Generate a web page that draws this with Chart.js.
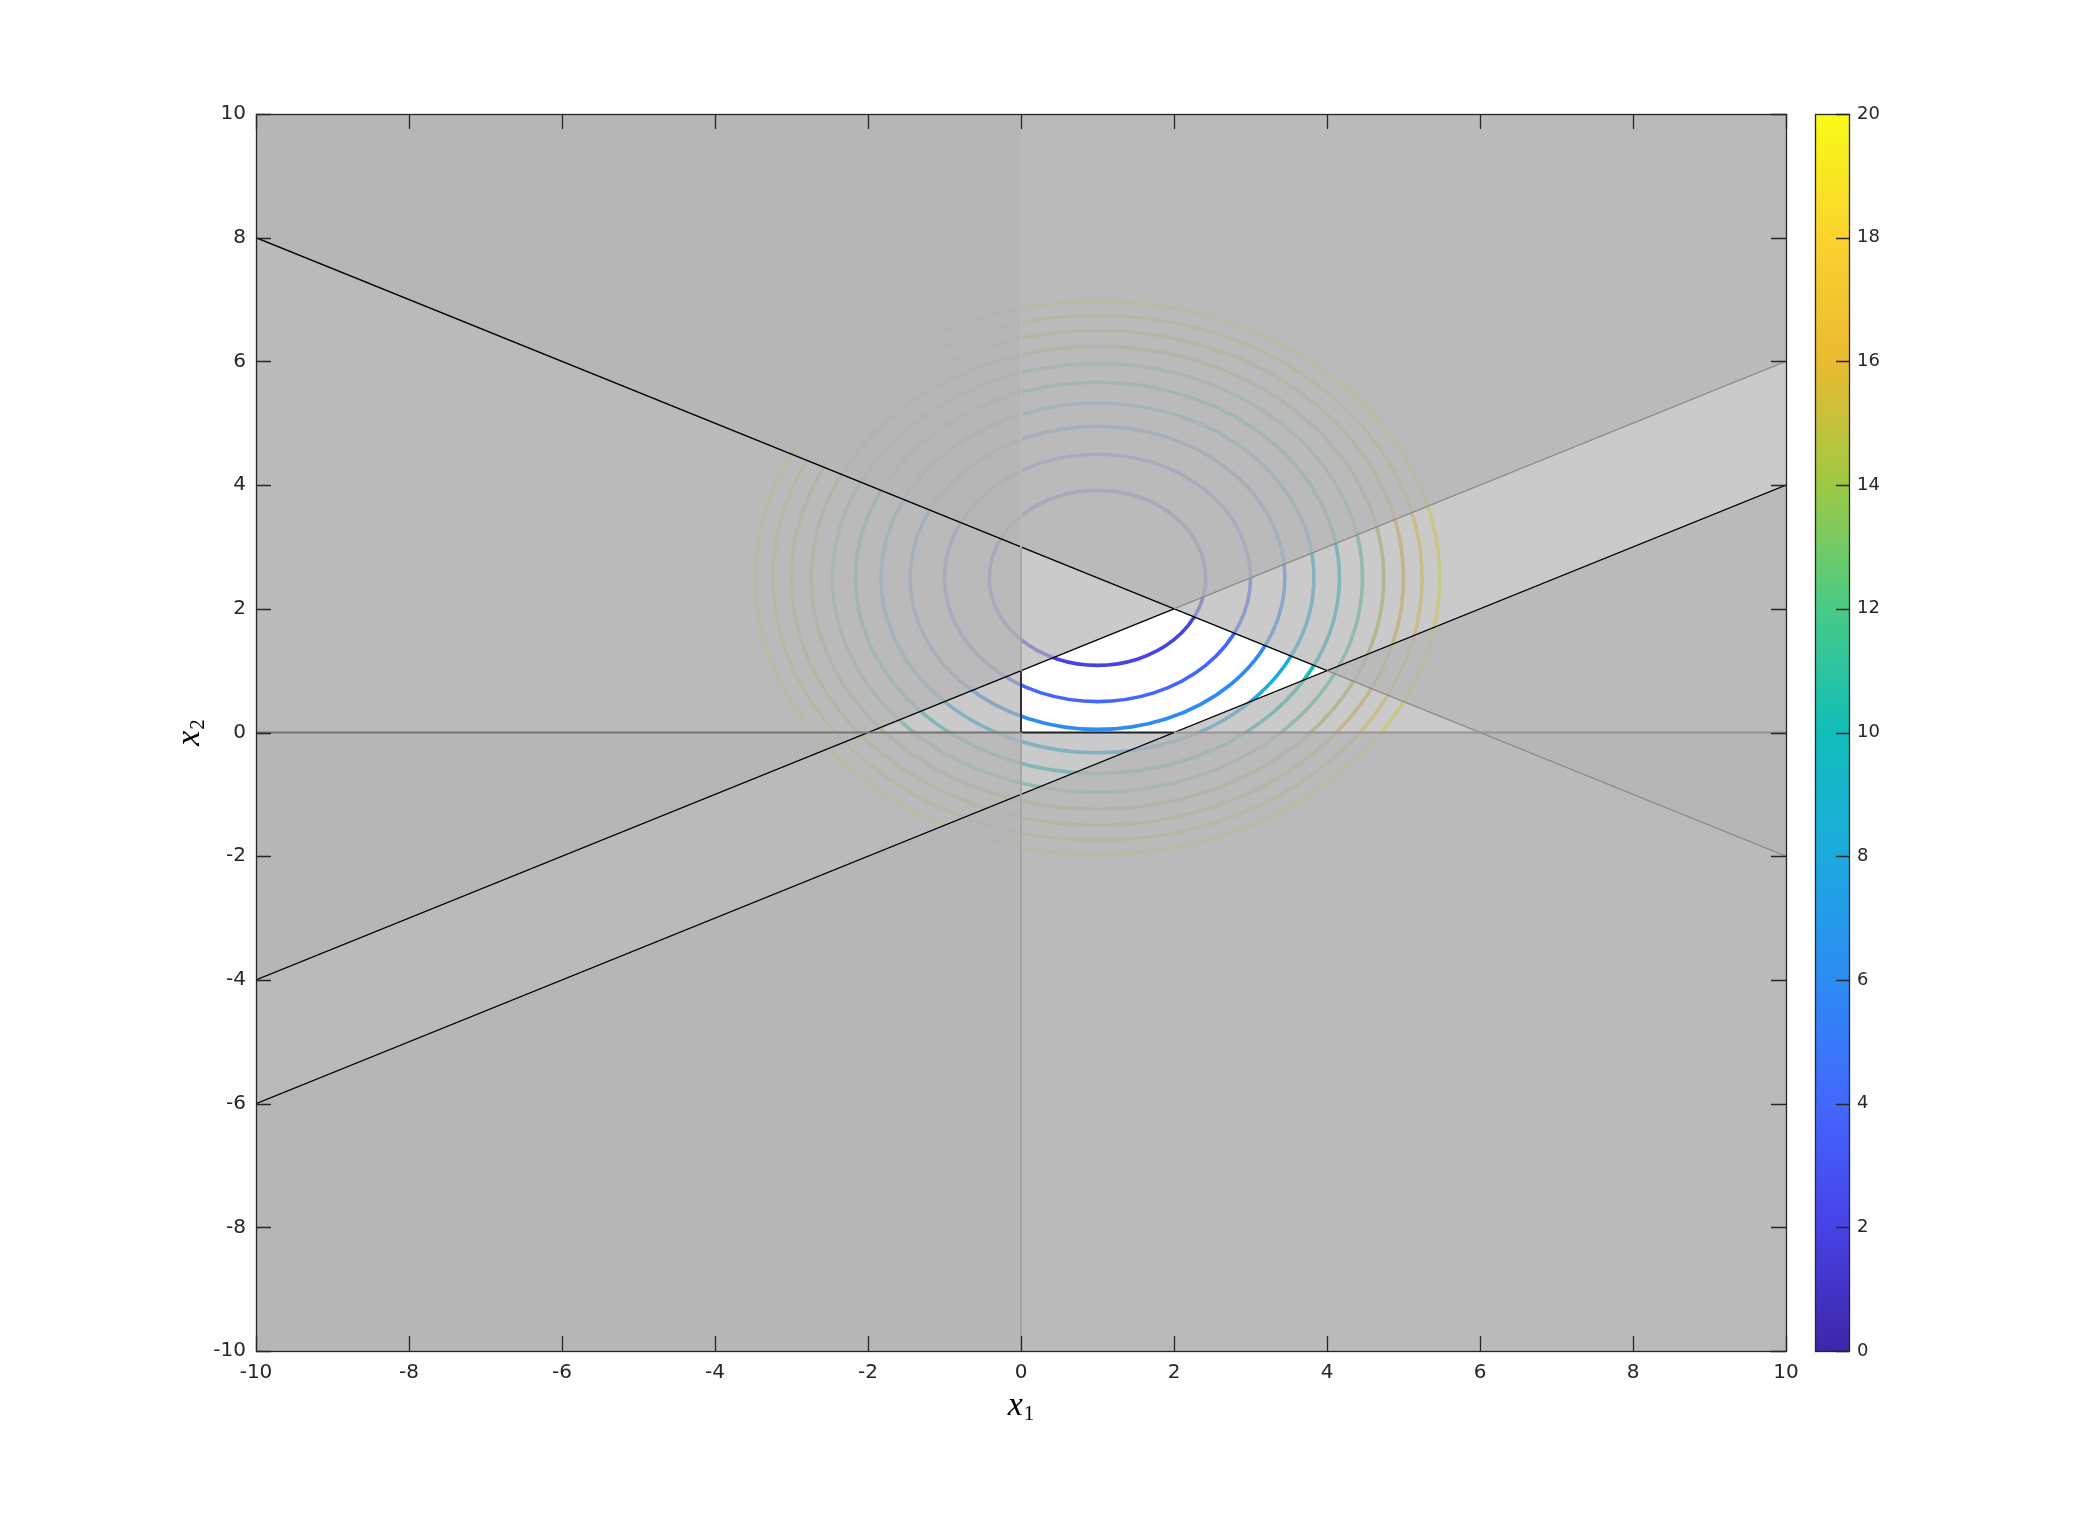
<!DOCTYPE html>
<html>
<head>
<meta charset="utf-8">
<title>Feasible region with objective contours</title>
<script src="https://cdn.jsdelivr.net/npm/chart.js@4.4.1/dist/chart.umd.min.js"></script>
<style>
html,body{margin:0;padding:0;background:#fff;}
#wrap{position:relative;width:2078px;height:1519px;}
</style>
</head>
<body>
<div id="wrap"><canvas id="lp" width="2078" height="1519"></canvas></div>
<script>
// tick values
const xTicks = [-10, -8, -6, -4, -2, 0, 2, 4, 6, 8, 10];
const yTicks = [-10, -8, -6, -4, -2, 0, 2, 4, 6, 8, 10];
const cbTicks = [0, 2, 4, 6, 8, 10, 12, 14, 16, 18, 20];

// objective f = (x1-1)^2 + (x2-2.5)^2, contour levels
const fCenter = [1, 2.5];
const fLevels = [2, 4, 6, 8, 10, 12, 14, 16, 18, 20];

// constraint boundaries, edge to edge of the axes
const edgeA = [[-10, 8], [10, -2]];   // x1 + 2x2 <= 6   (shade above)
const edgeB = [[-10, -4], [10, 6]];   // -x1 + 2x2 <= 2  (shade above)
const edgeC = [[-10, -6], [10, 4]];   // x1 - 2x2 <= 2   (shade below)
const edgeD = [[-10, 10], [0, 10]];   // x1 >= 0         (shade below)
const edgeE = [[-10, 0], [10, 0]];    // x2 >= 0         (shade below)

// visible line pieces
const blackA = [[-10, 8], [4, 1]];
const greyA = [[4, 1], [10, -2]];
const blackB = [[-10, -4], [2, 2]];
const greyB = [[2, 2], [10, 6]];
const blackC = [[-10, -6], [10, 4]];
const x2AxisLeft = [[-10, 0], [0, 0]];
const x2AxisMid = [[0, 0], [2, 0]];
const x2AxisRight = [[2, 0], [10, 0]];
const x1AxisLow = [[0, -10], [0, 0]];
const x1AxisMid = [[0, 0], [0, 1]];
const x1AxisUp = [[0, 1], [0, 3]];
const x1AxisTop = [[0, 3], [0, 10]];

// parula colormap, t = 0 .. 1 in steps of 0.1
const parula = [
  [62, 38, 168], [71, 66, 230], [67, 103, 253], [45, 139, 244], [28, 170, 223],
  [16, 190, 186], [72, 203, 134], [157, 201, 67], [234, 186, 48], [251, 211, 46],
  [249, 251, 21]
];

function parulaAt(t){
  t = Math.max(0, Math.min(1, t));
  const f = t * (parula.length - 1);
  const i = Math.min(Math.floor(f), parula.length - 2);
  const u = f - i;
  const c = parula[i].map((v, k) => Math.round(v + (parula[i+1][k] - v) * u));
  return `rgb(${c[0]},${c[1]},${c[2]})`;
}

const toPts = arr => arr.map(([x, y]) => ({x, y}));
const shade = 'rgba(179,179,179,0.7)';

function patch(pts, fill){
  return {data: toPts(pts), fill, backgroundColor: shade, borderColor: 'rgba(0,0,0,0)',
    borderWidth: 1, pointRadius: 0, tension: 0, order: 10};
}
function seg(pts, color, w){
  return {data: toPts(pts), fill: false, borderColor: color, borderWidth: w,
    pointRadius: 0, tension: 0, order: 0};
}

const ink = '#262626';
const tickFont = {family: 'DejaVu Sans', size: 20};

function drawSubLabel(ctx, main, sub, cx, base){
  ctx.font = 'italic 34px "Liberation Serif"';
  const wm = ctx.measureText(main).width;
  ctx.font = '21px "Liberation Serif"';
  const ws = ctx.measureText(sub).width;
  const x0 = cx - (wm + 1 + ws) / 2;
  ctx.fillStyle = '#000';
  ctx.textAlign = 'left';
  ctx.textBaseline = 'alphabetic';
  ctx.font = 'italic 34px "Liberation Serif"';
  ctx.fillText(main, x0, base);
  ctx.font = '21px "Liberation Serif"';
  ctx.fillText(sub, x0 + wm + 1, base + 5);
}

const decor = {
  id: 'decor',
  beforeDatasetsDraw(chart){
    const {ctx, chartArea: a} = chart;
    const xs = chart.scales.x, ys = chart.scales.y;
    ctx.save();
    ctx.beginPath();
    ctx.rect(a.left, a.top, a.right - a.left, a.bottom - a.top);
    ctx.clip();
    const cx = xs.getPixelForValue(fCenter[0]);
    const cy = ys.getPixelForValue(fCenter[1]);
    fLevels.forEach(lv => {
      const r = Math.sqrt(lv);
      const rx = xs.getPixelForValue(fCenter[0] + r) - cx;
      const ry = cy - ys.getPixelForValue(fCenter[1] + r);
      ctx.beginPath();
      ctx.ellipse(cx, cy, rx, ry, 0, 0, 2 * Math.PI);
      ctx.strokeStyle = parulaAt(lv / 20);
      ctx.lineWidth = 3.6;
      ctx.stroke();
    });
    ctx.restore();
  },
  afterDraw(chart){
    const {ctx, chartArea: a} = chart;
    const xs = chart.scales.x, ys = chart.scales.y, cb = chart.scales.cb;
    ctx.save();
    ctx.strokeStyle = ink;
    ctx.lineWidth = 1.3;
    // inward ticks on all four sides
    ctx.beginPath();
    xTicks.forEach(v => {
      const p = Math.round(xs.getPixelForValue(v)) + 0.5;
      ctx.moveTo(p, a.bottom); ctx.lineTo(p, a.bottom - 15);
      ctx.moveTo(p, a.top); ctx.lineTo(p, a.top + 15);
    });
    yTicks.forEach(v => {
      const p = Math.round(ys.getPixelForValue(v)) + 0.5;
      ctx.moveTo(a.left, p); ctx.lineTo(a.left + 15, p);
      ctx.moveTo(a.right, p); ctx.lineTo(a.right - 15, p);
    });
    ctx.stroke();
    ctx.strokeRect(a.left + 0.5, a.top + 0.5, a.right - a.left, a.bottom - a.top);

    // colorbar
    const bx0 = 1815, bx1 = 1849;
    const by0 = cb.getPixelForValue(20), by1 = cb.getPixelForValue(0);
    const g = ctx.createLinearGradient(0, by1, 0, by0);
    parula.forEach((c, i) => g.addColorStop(i / (parula.length - 1), `rgb(${c[0]},${c[1]},${c[2]})`));
    ctx.fillStyle = g;
    ctx.fillRect(bx0, by0, bx1 - bx0, by1 - by0);
    ctx.beginPath();
    cbTicks.forEach(v => {
      const p = Math.round(cb.getPixelForValue(v)) + 0.5;
      ctx.moveTo(bx1, p); ctx.lineTo(bx1 - 13, p);
    });
    ctx.stroke();
    ctx.strokeRect(bx0 + 0.5, by0 + 0.5, bx1 - bx0, by1 - by0);

    // axis labels
    drawSubLabel(ctx, 'x', '1', (a.left + a.right) / 2, 1415);
    ctx.translate(199, (a.top + a.bottom) / 2);
    ctx.rotate(-Math.PI / 2);
    drawSubLabel(ctx, 'x', '2', 0, 0);
    ctx.restore();
  }
};

new Chart(document.getElementById('lp'), {
  type: 'line',
  data: {
    datasets: [
      patch(edgeA, 'end'),
      patch(edgeB, 'end'),
      patch(edgeC, 'start'),
      patch(edgeD, 'start'),
      patch(edgeE, 'start'),
      seg(x2AxisLeft, '#767676', 2),
      seg(x2AxisRight, '#959595', 2),
      seg(x1AxisLow, '#a6a6a6', 2),
      seg(x1AxisUp, '#a8a8a8', 2),
      seg(x1AxisTop, '#bababa', 2),
      seg(greyA, '#8c8c8c', 1.3),
      seg(greyB, '#8c8c8c', 1.3),
      seg(x2AxisMid, '#222', 2),
      seg(x1AxisMid, '#333', 2),
      seg(blackA, '#000', 1.3),
      seg(blackB, '#000', 1.3),
      seg(blackC, '#000', 1.3)
    ]
  },
  options: {
    responsive: false,
    devicePixelRatio: 1,
    animation: false,
    events: [],
    layout: {padding: {top: 114, left: 0, right: 0, bottom: 68}},
    plugins: {legend: {display: false}, tooltip: {enabled: false}},
    scales: {
      x: {
        type: 'linear', position: 'bottom', min: -10, max: 10,
        afterBuildTicks: s => { s.ticks = xTicks.map(v => ({value: v})); },
        afterFit: s => { s.height = 100; },
        grid: {display: false, drawTicks: false},
        border: {display: false},
        ticks: {font: tickFont, color: ink, padding: 10, maxRotation: 0, autoSkip: false,
          callback: v => String(v)}
      },
      y: {
        type: 'linear', position: 'left', min: -10, max: 10,
        afterBuildTicks: s => { s.ticks = yTicks.map(v => ({value: v})); },
        afterFit: s => { s.width = 256; },
        grid: {display: false, drawTicks: false},
        border: {display: false},
        ticks: {font: tickFont, color: ink, padding: 10, autoSkip: false,
          callback: v => String(v)}
      },
      cb: {
        type: 'linear', position: 'right', min: 0, max: 20,
        afterBuildTicks: s => { s.ticks = cbTicks.map(v => ({value: v})); },
        afterFit: s => { s.width = 292; },
        grid: {display: false, drawTicks: false},
        border: {display: false},
        ticks: {font: {family: 'DejaVu Sans', size: 18}, color: ink, padding: 71, autoSkip: false,
          callback: v => String(v)}
      }
    }
  },
  plugins: [decor]
});
</script>
</body>
</html>
